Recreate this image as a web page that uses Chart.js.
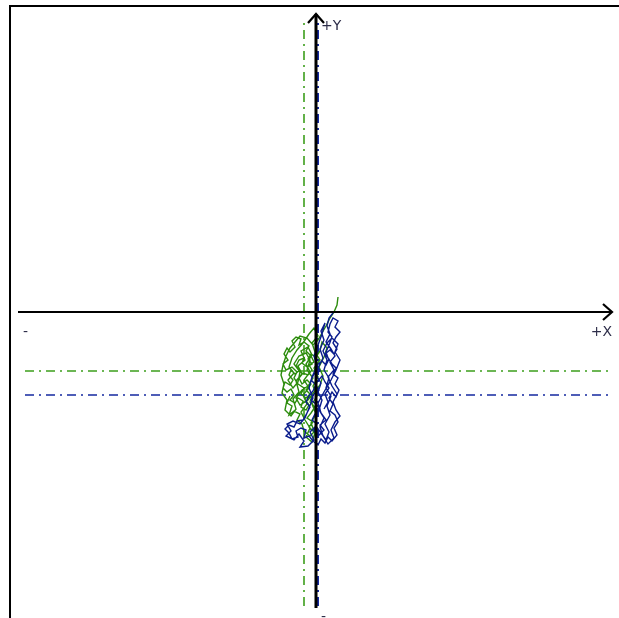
<!DOCTYPE html>
<html>
<head>
<meta charset="utf-8">
<script src="https://cdn.jsdelivr.net/npm/chart.js@4/dist/chart.umd.min.js"></script>
<style>
  html, body { margin: 0; padding: 0; background: #fff; }
  #wrap { position: relative; width: 619px; height: 618px; }
</style>
</head>
<body>
<div id="wrap"><canvas id="plot" width="619" height="618"></canvas></div>
<script>
// axis extents (plot units)
var xAxisRange = [-298, 296];
var yAxisRange = [-296, 298];
var meanRange = [-291, 292];

// average position of each trace
var greenMean = { x: -12, y: -59 };
var blueMean = { x: 2, y: -83 };

// traced paths
var greenX = [22,21,18,14,10,6,2,-3,-9,-16,-21,-26,-30,-33,-35,-32,-34,-29,-31,-25,-20,-23,-17,-20,-14,-18,-11,-15,-8,-4,-10,-6,-12,-7,-13,-9,-15,-11,-6,-10,-4,-1,-5,0,-4,1,-3,2,-2,4,-1,-4,2,-2,-7,-13,-19,-24,-27,-22,-28,-23,-18,-16,-22,-17,-10,-6,-9,-3,-8,-14,-20,-16,-8,-2,4,7,3,8,11,6,4,
  0,-5,-8,-4,-9,-14,-12,-17,-20,-16,-21,-25,-27,-23,-26,-31,-33,-29,-25,-22,-26,-21,-18,-13,-15,-10,-7,-11,-6,-10,-5,-9,-14,-17,-13,-8,-4,-7,-2,-5,-10,-7,-12,-17,-15,-20,-24,-21,-26,-29,-32,-28,-33,-30,-24,-19,-22,-18,-12,-15,-10,-4,-6,-1,-5,-9,-3,-7,-2,-6,-12,-14,-19,-16,-22,-27,-24,-29,-26];
var greenY = [15,7,0,-6,-14,-21,-28,-33,-26,-24,-30,-36,-44,-53,-63,-72,-81,-88,-98,-104,-97,-87,-80,-69,-62,-54,-48,-39,-35,-43,-52,-60,-68,-76,-83,-92,-100,-108,-116,-125,-130,-121,-111,-102,-92,-84,-74,-65,-56,-48,-40,-31,-24,-16,-22,-31,-38,-46,-55,-61,-68,-76,-70,-60,-52,-44,-41,-48,-58,-66,-74,-78,-86,-93,-88,-80,-73,-64,-55,-45,-36,-30,-39,
  -45,-42,-47,-52,-55,-51,-46,-48,-54,-58,-62,-58,-63,-68,-73,-70,-76,-80,-77,-83,-88,-91,-86,-89,-95,-98,-93,-87,-82,-78,-72,-68,-72,-66,-61,-63,-58,-53,-50,-44,-39,-34,-30,-33,-27,-25,-29,-35,-40,-36,-42,-48,-52,-58,-55,-60,-66,-72,-76,-82,-86,-84,-90,-95,-101,-106,-110,-115,-120,-124,-119,-112,-108,-102,-99,-103,-94,-91,-84];
var blueX = [17,13,11,14,10,15,19,14,18,12,16,21,17,20,24,19,15,18,12,7,4,8,3,6,2,5,0,3,7,4,8,5,9,6,2,-2,1,-4,-7,-3,-7,-11,-16,-23,-29,-25,-30,-22,-17,-12,-16,-8,-2,-6,0,5,10,13,9,14,11,15,10,13,8,11,7,11,16,22,19,24,20,15,8,2,5,10,4,
  8,3,-2,1,-4,-1,4,0,-5,-2,3,-1,-5,-2,4,1,6,10,13,9,14,18,21,17,20,24,19,22,17,14,12,16,13,10,12,16,20,17,22,19,23,20,16,13,17,14,19,22,18,21,16,12,9,5,2,-3,-7,-12,-10,-15,-20,-18,-24,-27,-31,-27,-22,-19,-13,-9,-6,-10,-7,-3,1,6,9,13,9,12,8];
var blueY = [-1,-6,-14,-22,-30,-37,-44,-50,-58,-65,-74,-82,-90,-98,-104,-110,-118,-126,-132,-124,-115,-106,-98,-88,-80,-71,-63,-54,-46,-37,-28,-19,-11,-22,-33,-44,-54,-65,-76,-86,-96,-106,-112,-109,-112,-119,-124,-128,-122,-129,-135,-134,-128,-120,-114,-121,-128,-120,-112,-103,-94,-84,-76,-66,-58,-48,-39,-31,-26,-32,-40,-48,-58,-68,-80,-91,-101,-108,-113,
  -118,-123,-119,-112,-108,-102,-97,-92,-88,-82,-78,-72,-68,-62,-59,-53,-49,-53,-47,-42,-38,-42,-37,-31,-25,-20,-15,-9,-6,-12,-20,-25,-33,-40,-46,-52,-56,-62,-66,-72,-78,-85,-80,-86,-92,-99,-103,-110,-116,-123,-129,-125,-131,-127,-133,-129,-124,-126,-118,-116,-119,-125,-127,-121,-117,-113,-115,-109,-108,-101,-95,-90,-84,-79,-70,-64,-70,-76,-82,-90,-97];

function pts(xs, ys) {
  return xs.map(function(x, i) { return { x: x, y: ys[i] }; });
}

var GREEN = '#2c8c0c';
var BLUE = '#0a1c8c';
var GREEN_MEAN = '#3c9e1c';
var BLUE_MEAN = '#1428a0';
var dashDot = [9, 5, 2, 5];

// frame, arrowheads and axis captions
var decorations = {
  id: 'decorations',
  beforeDraw: function(chart) {
    var c = chart.ctx;
    c.save();
    c.fillStyle = '#fff';
    c.fillRect(0, 0, chart.width, chart.height);
    c.strokeStyle = '#000';
    c.lineWidth = 2;
    c.beginPath();
    c.moveTo(10, chart.height);
    c.lineTo(10, 6);
    c.lineTo(chart.width, 6);
    c.stroke();
    c.restore();
  },
  afterDatasetsDraw: function(chart) {
    var c = chart.ctx;
    var xs = chart.scales.x, ys = chart.scales.y;
    var ox = xs.getPixelForValue(0), oy = ys.getPixelForValue(0);
    var xEnd = xs.getPixelForValue(xAxisRange[1]);
    var yEnd = ys.getPixelForValue(yAxisRange[1]);
    c.save();
    c.strokeStyle = '#000';
    c.lineWidth = 2.2;
    c.beginPath();
    c.moveTo(xEnd - 9, oy - 8);
    c.lineTo(xEnd, oy);
    c.lineTo(xEnd - 9, oy + 8);
    c.stroke();
    c.beginPath();
    c.moveTo(ox - 8, yEnd + 9);
    c.lineTo(ox, yEnd);
    c.lineTo(ox + 8, yEnd + 9);
    c.stroke();

    c.fillStyle = '#2e2e4a';
    c.font = '14px "DejaVu Sans", sans-serif';
    c.textBaseline = 'middle';
    c.textAlign = 'left';
    c.fillText('+Y', ox + 5, yEnd + 12);
    c.textAlign = 'right';
    c.fillText('+X', xEnd, oy + 20);
    c.textAlign = 'left';
    c.fillText('-', xs.getPixelForValue(xAxisRange[0]) + 5, oy + 20);
    c.fillText('-', ox + 5, ys.getPixelForValue(yAxisRange[0]) + 9);
    c.restore();
  }
};

new Chart(document.getElementById('plot'), {
  type: 'scatter',
  data: {
    datasets: [
      { data: [{ x: xAxisRange[0], y: 0 }, { x: xAxisRange[1], y: 0 }], borderColor: '#000', borderWidth: 2, order: 0 },
      { data: [{ x: 0, y: yAxisRange[0] }, { x: 0, y: yAxisRange[1] }], borderColor: '#000', borderWidth: 3, order: 0 },
      { data: pts(blueX, blueY), borderColor: BLUE, borderWidth: 1.4, order: 1 },
      { data: pts(greenX, greenY), borderColor: GREEN, borderWidth: 1.4, order: 2 },
      { data: [{ x: blueMean.x, y: yAxisRange[0] + 2 }, { x: blueMean.x, y: yAxisRange[1] - 4 }], borderColor: BLUE_MEAN, borderWidth: 2, borderDash: dashDot, order: 3 },
      { data: [{ x: meanRange[0], y: blueMean.y }, { x: meanRange[1], y: blueMean.y }], borderColor: BLUE_MEAN, borderWidth: 1.6, borderDash: dashDot, order: 3 },
      { data: [{ x: greenMean.x, y: yAxisRange[0] + 2 }, { x: greenMean.x, y: yAxisRange[1] - 4 }], borderColor: GREEN_MEAN, borderWidth: 1.6, borderDash: dashDot, order: 3 },
      { data: [{ x: meanRange[0], y: greenMean.y }, { x: meanRange[1], y: greenMean.y }], borderColor: GREEN_MEAN, borderWidth: 1.6, borderDash: dashDot, order: 3 }
    ].map(function(d) {
      d.showLine = true;
      d.pointRadius = 0;
      d.tension = 0;
      d.fill = false;
      d.clip = false;
      return d;
    })
  },
  options: {
    responsive: false,
    animation: false,
    layout: { padding: { left: 16, right: 3, top: 12, bottom: 6 } },
    plugins: { legend: { display: false }, tooltip: { enabled: false } },
    scales: {
      x: { type: 'linear', min: -300, max: 300, display: false },
      y: { type: 'linear', min: -300, max: 300, display: false }
    }
  },
  plugins: [decorations]
});
</script>
</body>
</html>
